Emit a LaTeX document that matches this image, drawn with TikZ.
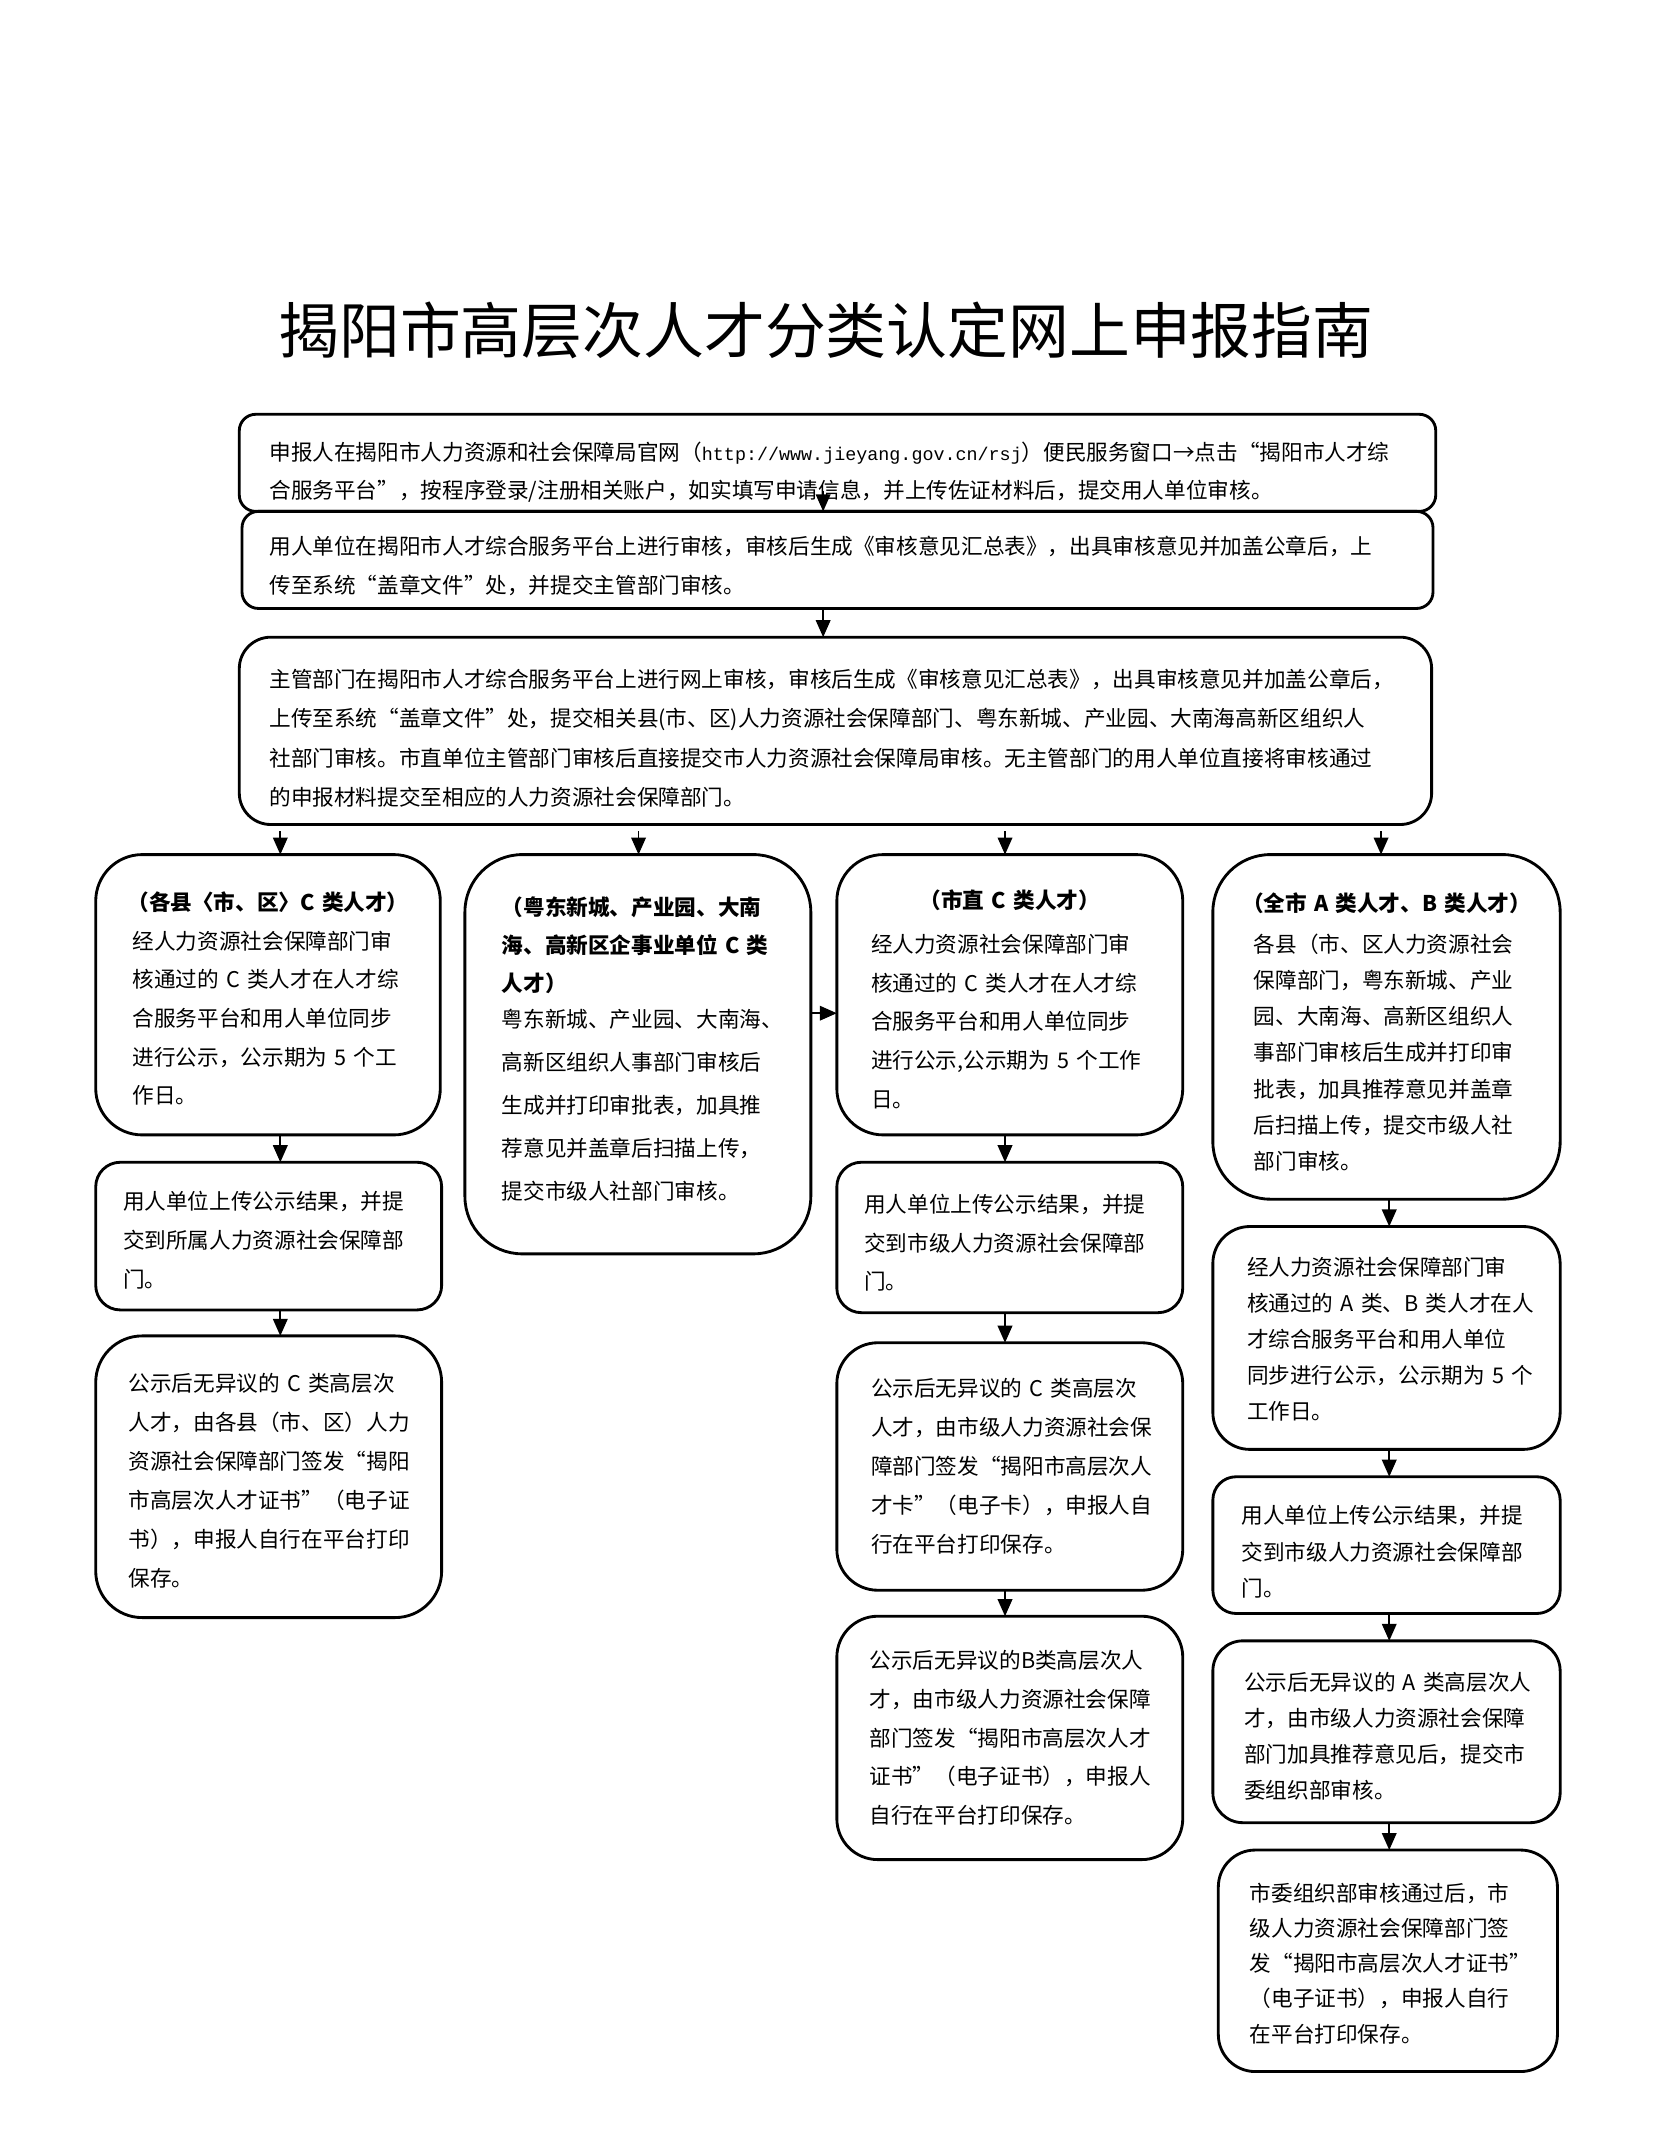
\documentclass[tikz,border=0pt]{standalone}
\usepackage{fontspec}
\setmainfont{Noto Sans CJK SC}
\newfontfamily\urlmono{Liberation Mono}
\usetikzlibrary{arrows.meta}
\newcommand\topstrut[1]{\rule{0pt}{#1}}
\begin{document}
\begin{tikzpicture}[x=0.50579pt,y=-0.50579pt,
  bx/.style={draw, line width=1.05pt, align=left, anchor=north west, inner ysep=0pt, outer sep=0pt},
  fs/.style={font=\fontsize{8}{#1}\selectfont},
  arr/.style={line width=0.65pt, -{Triangle[width=5.4pt,length=6.3pt]}},
  ttl/.style={font=\fontsize{22.5}{27}\selectfont}
]
\useasboundingbox (0,0) rectangle (1210,1568);
\fill[white] (0,0) rectangle (1210,1568);

\node[ttl] (title) at (604,242) {揭阳市高层次人才分类认定网上申报指南};

% top boxes
\node[bx, fs=14.2, minimum width=442.57pt, minimum height=35.91pt, text width=420.31pt, inner xsep=11.13pt, rounded corners=6.07pt] (t1) at (175,303)
 {\topstrut{13.8pt}申报人在揭阳市人力资源和社会保障局官网（{\urlmono\fontsize{6.8}{14.2}\selectfont http://www.jieyang.gov.cn/rsj}）便民服务窗口→点击“揭阳市人才综\\合服务平台”，按程序登录/注册相关账户，如实填写申请信息，并上传佐证材料后，提交用人单位审核。};

\node[bx, fs=14.6, minimum width=440.54pt, minimum height=35.91pt, text width=420.30pt, inner xsep=10.12pt, rounded corners=6.07pt] (t2) at (177,374)
 {\topstrut{11.4pt}用人单位在揭阳市人才综合服务平台上进行审核，审核后生成《审核意见汇总表》，出具审核意见并加盖公章后，上\\传至系统“盖章文件”处，并提交主管部门审核。};

\node[bx, fs=14.6, minimum width=441.05pt, minimum height=69.29pt, text width=418.79pt, inner xsep=11.13pt, rounded corners=11.63pt] (t3) at (175,466)
 {\topstrut{12.4pt}主管部门在揭阳市人才综合服务平台上进行网上审核，审核后生成《审核意见汇总表》，出具审核意见并加盖公章后，\\上传至系统“盖章文件”处，提交相关县(市、区)人力资源社会保障部门、粤东新城、产业园、大南海高新区组织人\\社部门审核。市直单位主管部门审核后直接提交市人力资源社会保障局审核。无主管部门的用人单位直接将审核通过\\的申报材料提交至相应的人力资源社会保障部门。};

% column A
\node[bx, fs=14.3, minimum width=127.46pt, minimum height=103.69pt, text width=100.14pt, inner xsep=13.66pt, rounded corners=17.2pt] (a1) at (70,625)
 {\topstrut{9.8pt}\makebox[\linewidth]{\bfseries （各县〈市、区〉C~类人才）}\\经人力资源社会保障部门审\\核通过的~C~类人才在人才综\\合服务平台和用人单位同步\\进行公示，公示期为~5~个工\\作日。};

\node[bx, fs=14.4, minimum width=127.96pt, minimum height=54.63pt, text width=107.72pt, inner xsep=10.12pt, rounded corners=9.1pt] (a2) at (70,850)
 {\topstrut{9.8pt}用人单位上传公示结果，并提\\交到所属人力资源社会保障部\\门。};

\node[bx, fs=14.4, minimum width=127.96pt, minimum height=104.19pt, text width=103.68pt, inner xsep=12.14pt, rounded corners=17.2pt] (a3) at (70,977)
 {\topstrut{9.8pt}公示后无异议的~C~类高层次\\人才，由各县（市、区）人力\\资源社会保障部门签发“揭阳\\市高层次人才证书”（电子证\\书），申报人自行在平台打印\\保存。};

% column B
\node[bx, fs=15.9, minimum width=127.96pt, minimum height=147.69pt, text width=100.64pt, inner xsep=13.66pt, rounded corners=21.24pt] (b1) at (340,625)
 {{\bfseries\fontsize{8}{14.2}\selectfont （粤东新城、产业园、大南\\海、高新区企事业单位~C~类\\人才）\par}\vspace{-2.6pt}粤东新城、产业园、大南海、\\高新区组织人事部门审核后\\生成并打印审批表，加具推\\荐意见并盖章后扫描上传，\\提交市级人社部门审核。\rule[-4.6pt]{0pt}{0pt}};

% column C
\node[bx, fs=14.3, minimum width=127.96pt, minimum height=103.69pt, text width=102.68pt, inner xsep=12.64pt, rounded corners=17.2pt] (c1) at (612,625)
 {\topstrut{10.3pt}\makebox[\linewidth]{\bfseries （市直~C~类人才）}\\[1.9pt]经人力资源社会保障部门审\\核通过的~C~类人才在人才综\\合服务平台和用人单位同步\\进行公示,公示期为~5~个工作\\日。};

\node[bx, fs=14.2, minimum width=127.96pt, minimum height=55.64pt, text width=107.72pt, inner xsep=10.12pt, rounded corners=9.1pt] (c2) at (612,850)
 {\topstrut{10.8pt}用人单位上传公示结果，并提\\交到市级人力资源社会保障部\\门。};

\node[bx, fs=14.4, minimum width=127.96pt, minimum height=91.55pt, text width=102.68pt, inner xsep=12.64pt, rounded corners=15.17pt] (c3) at (612,982)
 {公示后无异议的~C~类高层次\\人才，由市级人力资源社会保\\障部门签发“揭阳市高层次人\\才卡”（电子卡），申报人自\\行在平台打印保存。};

\node[bx, fs=14.3, minimum width=127.96pt, minimum height=90.03pt, text width=103.68pt, inner xsep=12.14pt, rounded corners=15.17pt] (c4) at (612,1182)
 {公示后无异议的B类高层次人\\才，由市级人力资源社会保障\\部门签发“揭阳市高层次人才\\证书”（电子证书），申报人\\自行在平台打印保存。};

% column D
\node[bx, fs=13.4, minimum width=128.47pt, minimum height=127.46pt, text width=98.13pt, inner xsep=15.17pt, rounded corners=21.24pt] (d1) at (887,625)
 {\topstrut{10.8pt}\makebox[\linewidth]{\bfseries （全市~A~类人才、B~类人才）}\\[1.6pt]各县（市、区人力资源社会\\保障部门，粤东新城、产业\\园、大南海、高新区组织人\\事部门审核后生成并打印审\\批表，加具推荐意见并盖章\\后扫描上传，提交市级人社\\部门审核。};

\node[bx, fs=13.3, minimum width=128.47pt, minimum height=82.44pt, text width=103.19pt, inner xsep=12.64pt, rounded corners=13.66pt] (d2) at (887,897)
 {\topstrut{7.8pt}经人力资源社会保障部门审\\核通过的~A~类、B~类人才在人\\才综合服务平台和用人单位\\同步进行公示，公示期为~5~个\\工作日。};

\node[bx, fs=13.4, minimum width=128.47pt, minimum height=50.58pt, text width=107.23pt, inner xsep=10.62pt, rounded corners=8.6pt] (d3) at (887,1080)
 {\topstrut{11.8pt}用人单位上传公示结果，并提\\交到市级人力资源社会保障部\\门。};

\node[bx, fs=13.3, minimum width=128.47pt, minimum height=67.27pt, text width=105.21pt, inner xsep=11.63pt, rounded corners=11.13pt] (d4) at (887,1200)
 {\topstrut{9.8pt}公示后无异议的~A~类高层次人\\才，由市级人力资源社会保障\\部门加具推荐意见后，提交市\\委组织部审核。};

\node[bx, fs=13.0, minimum width=125.44pt, minimum height=81.94pt, text width=102.18pt, inner xsep=11.63pt, rounded corners=13.66pt] (d5) at (891,1353)
 {\topstrut{8.8pt}市委组织部审核通过后，市\\级人力资源社会保障部门签\\发“揭阳市高层次人才证书”\\（电子证书），申报人自行\\在平台打印保存。};

% connector positions
\coordinate (xm) at (602,0);
\coordinate (xa) at (205,0);
\coordinate (xb) at (467,0);
\coordinate (xc) at (735,0);
\coordinate (xd) at (1010,0);
\coordinate (xe) at (1016,0);
\coordinate (yh) at (0,741);

\draw[arr] ([yshift=7.5pt]t1.south -| xm) -- (t2.north -| xm);
\draw[arr] (t2.south -| xm) -- (t3.north -| xm);
\draw[arr, shorten <=2.5pt] (t3.south -| xa) -- (a1.north -| xa);
\draw[arr, shorten <=2.5pt] (t3.south -| xb) -- (b1.north -| xb);
\draw[arr, shorten <=2.5pt] (t3.south -| xc) -- (c1.north -| xc);
\draw[arr, shorten <=2.5pt] (t3.south -| xd) -- (d1.north -| xd);
\draw[arr] (a1.south -| xa) -- (a2.north -| xa);
\draw[arr] (a2.south -| xa) -- (a3.north -| xa);
\draw[arr] (c1.south -| xc) -- (c2.north -| xc);
\draw[arr] (c2.south -| xc) -- (c3.north -| xc);
\draw[arr] (c3.south -| xc) -- (c4.north -| xc);
\draw[arr] (d1.south -| xe) -- (d2.north -| xe);
\draw[arr] (d2.south -| xe) -- (d3.north -| xe);
\draw[arr] (d3.south -| xe) -- (d4.north -| xe);
\draw[arr] (d4.south -| xe) -- (d5.north -| xe);
\draw[arr] (b1.east |- yh) -- (c1.west |- yh);
\end{tikzpicture}
\end{document}
